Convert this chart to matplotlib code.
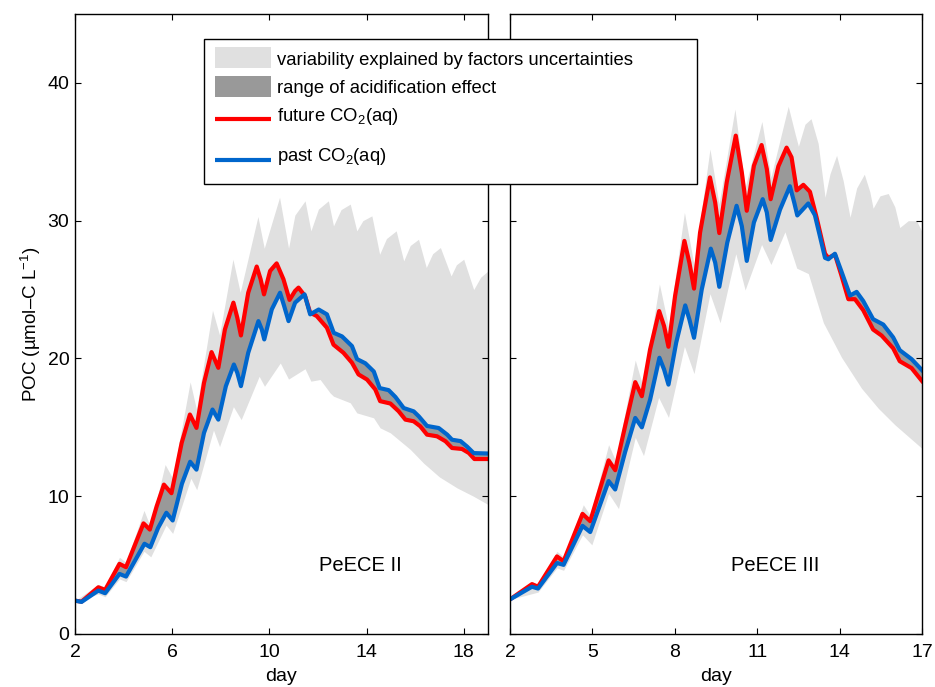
import matplotlib
matplotlib.use("Agg")
import numpy as np
import matplotlib.pyplot as plt
from matplotlib.patches import Rectangle
from matplotlib.lines import Line2D
from matplotlib.transforms import Affine2D

plt.rcParams['font.family'] = ['Liberation Sans', 'DejaVu Sans']
plt.rcParams['mathtext.fontset'] = 'custom'
plt.rcParams['mathtext.rm'] = 'Liberation Sans'
plt.rcParams['mathtext.it'] = 'Liberation Sans'

LIGHT = '#e0e0e0'
DARK = '#999999'
RED = '#ff0000'
BLUE = '#0066cc'

# ---- PeECE II ----
p2_fut_x = [2.0, 2.27, 2.96, 3.24, 3.83, 4.10, 4.82, 5.08, 5.36, 5.66, 5.97, 6.39, 6.73, 7.00,
            7.31, 7.62, 7.90, 8.17, 8.52, 8.68, 8.83, 9.13, 9.48, 9.64, 9.78, 10.03, 10.30,
            10.58, 10.83, 11.06, 11.20, 11.47, 11.68, 11.95, 12.37, 12.64, 13.05, 13.40, 13.67,
            14.02, 14.36, 14.56, 14.98, 15.32, 15.60, 15.94, 16.21, 16.49, 16.90, 17.25,
            17.52, 17.93, 18.21, 18.44, 19.0]
p2_fut_y = [2.42, 2.35, 3.39, 3.20, 5.09, 4.85, 8.03, 7.58, 9.26, 10.84, 10.22, 13.87, 15.93, 14.96,
            18.23, 20.46, 19.32, 22.10, 24.05, 22.96, 21.67, 24.77, 26.67, 25.75, 24.65, 26.35, 26.90,
            25.75, 24.25, 24.90, 25.14, 24.53, 23.32, 23.08, 22.23, 21.00, 20.41, 19.69, 18.84,
            18.47, 17.75, 16.90, 16.73, 16.17, 15.56, 15.44, 15.08, 14.47, 14.35, 13.99,
            13.50, 13.43, 13.14, 12.70, 12.70]

p2_past_x = [2.0, 2.27, 2.96, 3.24, 3.83, 4.10, 4.86, 5.10, 5.42, 5.76, 6.02, 6.40, 6.74, 7.00,
             7.31, 7.66, 7.90, 8.21, 8.54, 8.68, 8.83, 9.13, 9.55, 9.69, 9.79, 10.10, 10.44,
             10.61, 10.79, 11.06, 11.45, 11.68, 12.03, 12.37, 12.65, 12.99, 13.40, 13.61, 13.95,
             14.30, 14.54, 14.91, 15.19, 15.53, 15.94, 16.15, 16.49, 16.97, 17.32, 17.52,
             17.87, 18.14, 18.41, 19.0]
p2_past_y = [2.42, 2.33, 3.15, 2.96, 4.36, 4.17, 6.55, 6.30, 7.70, 8.80, 8.24, 10.90, 12.50, 11.93,
             14.60, 16.29, 15.56, 17.99, 19.56, 18.96, 17.99, 20.41, 22.71, 22.10, 21.38, 23.56, 24.77,
             23.80, 22.71, 24.05, 24.65, 23.20, 23.55, 23.20, 21.86, 21.60, 20.90, 19.95, 19.65,
             19.05, 17.85, 17.70, 17.20, 16.40, 16.16, 15.80, 15.10, 14.95, 14.47, 14.10,
             14.00, 13.60, 13.13, 13.10]

p2_hi_x = [2.0, 2.96, 3.24, 3.83, 4.10, 4.84, 5.10, 5.71, 6.02, 6.74, 7.00, 7.66, 7.95, 8.50,
           8.80, 9.53, 9.79, 10.42, 10.79, 11.05, 11.47, 11.71, 12.02, 12.43, 12.64, 12.95,
           13.33, 13.60, 13.85, 14.22, 14.54, 14.82, 15.22, 15.53, 15.80, 16.14, 16.46, 16.72,
           17.04, 17.48, 17.70, 18.00, 18.41, 18.70, 19.0]
p2_hi_y = [2.42, 3.60, 3.40, 5.57, 5.20, 8.97, 7.80, 12.30, 11.30, 18.30, 16.30, 23.50, 21.70, 27.20,
           24.80, 30.30, 28.00, 31.70, 28.00, 30.40, 31.44, 29.26, 30.84, 31.44, 29.62, 30.80,
           31.20, 29.26, 30.00, 30.35, 27.56, 28.70, 29.26, 27.08, 28.20, 28.65, 26.60, 27.60,
           28.05, 25.99, 26.80, 27.20, 25.00, 25.90, 26.35]

p2_lo_x = [2.0, 2.96, 3.24, 3.83, 4.10, 4.84, 5.12, 5.75, 6.02, 6.77, 7.01, 7.70, 7.95, 8.52,
           8.84, 9.58, 9.80, 10.45, 10.79, 11.47, 11.71, 12.09, 12.50, 12.64, 13.33, 13.60,
           14.29, 14.56, 14.98, 15.80, 16.35, 17.00, 17.73, 18.40, 19.0]
p2_lo_y = [2.42, 2.90, 2.70, 4.00, 3.80, 6.00, 5.60, 7.90, 7.30, 11.30, 10.47, 14.80, 13.60, 16.50,
           15.56, 18.70, 17.98, 19.67, 18.50, 19.25, 18.35, 18.47, 17.50, 17.26, 16.78, 16.05,
           15.69, 14.96, 14.60, 13.40, 12.40, 11.40, 10.60, 10.00, 9.40]

# ---- PeECE III ----
p3_fut_x = [2.0, 2.80, 3.02, 3.71, 3.95, 4.64, 4.92, 5.59, 5.83, 6.19, 6.56, 6.80, 7.10, 7.43,
            7.61, 7.77, 8.01, 8.35, 8.53, 8.70, 8.92, 9.28, 9.47, 9.62, 9.89, 10.22, 10.44,
            10.62, 10.88, 11.16, 11.35, 11.49, 11.77, 12.07, 12.25, 12.44, 12.68, 12.92, 13.16,
            13.47, 13.59, 13.83, 14.07, 14.32, 14.56, 14.86, 15.22, 15.53, 15.95, 16.19,
            16.62, 17.0]
p3_fut_y = [2.51, 3.62, 3.43, 5.63, 5.28, 8.72, 8.19, 12.60, 11.89, 15.08, 18.28, 17.26, 20.65, 23.44,
            22.35, 20.85, 24.53, 28.53, 26.96, 25.07, 29.14, 33.14, 31.32, 29.10, 32.78, 36.17, 33.50,
            30.72, 33.99, 35.49, 33.75, 31.56, 33.95, 35.30, 34.60, 32.20, 32.60, 32.10, 30.25,
            27.60, 27.30, 27.55, 26.00, 24.30, 24.30, 23.50, 22.10, 21.66, 20.74, 19.80,
            19.30, 18.36]

p3_past_x = [2.0, 2.80, 3.02, 3.71, 3.95, 4.64, 4.92, 5.59, 5.83, 6.19, 6.56, 6.80, 7.10, 7.44,
             7.61, 7.77, 8.05, 8.38, 8.53, 8.70, 8.98, 9.31, 9.47, 9.62, 9.91, 10.25, 10.44,
             10.62, 10.88, 11.20, 11.35, 11.49, 11.83, 12.19, 12.35, 12.46, 12.86, 13.10, 13.28,
             13.47, 13.59, 13.83, 14.07, 14.38, 14.62, 14.86, 15.22, 15.59, 15.95, 16.19,
             16.62, 17.0]
p3_past_y = [2.51, 3.43, 3.30, 5.15, 5.02, 7.85, 7.40, 11.10, 10.49, 13.20, 15.68, 15.00, 17.00, 20.05,
             19.20, 18.10, 21.14, 23.85, 22.84, 21.50, 25.00, 27.97, 26.96, 25.20, 28.40, 31.08, 29.60,
             27.08, 29.87, 31.56, 30.60, 28.60, 30.80, 32.50, 31.30, 30.38, 31.25, 30.40, 28.90,
             27.30, 27.20, 27.60, 26.30, 24.57, 24.83, 24.17, 22.85, 22.46, 21.53, 20.60,
             19.95, 19.15]

p3_hi_x = [2.0, 2.80, 3.02, 3.71, 3.95, 4.67, 4.92, 5.59, 5.85, 6.56, 6.84, 7.44, 7.77, 8.35,
           8.70, 9.28, 9.61, 10.19, 10.56, 11.17, 11.50, 12.13, 12.38, 12.50, 12.74, 12.96,
           13.22, 13.47, 13.65, 13.89, 14.13, 14.38, 14.62, 14.90, 15.10, 15.22, 15.47, 15.77,
           16.01, 16.19, 16.50, 16.80, 17.0]
p3_hi_y = [2.51, 3.80, 3.60, 6.00, 5.60, 9.38, 8.60, 13.74, 12.55, 19.88, 17.97, 25.40, 22.30, 30.60,
           26.80, 35.20, 31.20, 38.10, 32.40, 37.20, 33.16, 38.30, 36.30, 35.40, 37.00, 37.40,
           35.60, 31.70, 33.40, 34.74, 32.90, 30.25, 32.37, 33.37, 32.10, 30.90, 31.80, 31.97,
           31.00, 29.50, 30.00, 30.00, 29.20]

p3_lo_x = [2.0, 3.02, 3.71, 3.95, 4.64, 4.98, 5.59, 5.95, 6.56, 6.86, 7.41, 7.77, 8.35, 8.70,
           9.28, 9.65, 10.22, 10.56, 11.16, 11.50, 12.01, 12.44, 12.86, 13.41, 14.07, 14.80,
           15.41, 16.01, 17.0]
p3_lo_y = [2.51, 3.04, 4.80, 4.62, 7.20, 6.47, 10.20, 9.10, 14.27, 12.95, 17.17, 15.72, 20.87, 18.90,
           24.70, 22.59, 27.60, 24.97, 28.27, 26.82, 29.19, 26.55, 26.16, 22.59, 20.08, 17.83,
           16.38, 15.19, 13.47]

panels = [
    dict(name='PeECE II', xlim=(2, 19), xticks=[2, 6, 10, 14, 18],
         fut=(p2_fut_x, p2_fut_y), past=(p2_past_x, p2_past_y),
         hi=(p2_hi_x, p2_hi_y), lo=(p2_lo_x, p2_lo_y), label_x=13.74),
    dict(name='PeECE III', xlim=(2, 17), xticks=[2, 5, 8, 11, 14, 17],
         fut=(p3_fut_x, p3_fut_y), past=(p3_past_x, p3_past_y),
         hi=(p3_hi_x, p3_hi_y), lo=(p3_lo_x, p3_lo_y), label_x=11.65),
]

legend_labels = ['variability explained by factors uncertainties',
                 'range of acidification effect',
                 'future CO$_2$(aq)',
                 'past CO$_2$(aq)']

W, H = 935, 687
fig = plt.figure(figsize=(W / 100, H / 100), dpi=100)
ax_left = fig.add_axes([75 / W, 53 / H, 413 / W, 620 / H])
ax_right = fig.add_axes([510 / W, 53 / H, 412 / W, 620 / H])

for ax, p in zip([ax_left, ax_right], panels):
    # light band: envelope of factor uncertainties
    hx, hy = p['hi']
    lx, ly = p['lo']
    grid = np.union1d(hx, lx)
    ax.fill_between(grid, np.interp(grid, lx, ly), np.interp(grid, hx, hy),
                    color=LIGHT, lw=0)
    # dark band between the two CO2 scenarios
    fx, fy = p['fut']
    px, py = p['past']
    g2 = np.union1d(fx, px)
    ax.fill_between(g2, np.interp(g2, px, py), np.interp(g2, fx, fy),
                    color=DARK, lw=0)
    ax.plot(fx, fy, color=RED, lw=3, solid_joinstyle='round')
    ax.plot(px, py, color=BLUE, lw=3, solid_joinstyle='round')

    ax.set_xlim(*p['xlim'])
    ax.set_ylim(0, 45)
    ax.set_xticks(p['xticks'])
    ax.set_yticks([0, 10, 20, 30, 40])
    ax.tick_params(direction='in', length=4, width=0.8, top=True, right=True,
                   labelsize=14)
    ax.tick_params(axis='x', pad=7)
    ax.tick_params(axis='y', pad=4)
    for s in ax.spines.values():
        s.set_linewidth(1.0)
    ax.set_xlabel('day', fontsize=14, labelpad=5)
    ax.text(p['label_x'], 4.95, p['name'], fontsize=14.5, ha='center', va='center')

ax_right.tick_params(labelleft=False)
ax_left.set_ylabel('POC (µmol–C L$^{-1}$)', fontsize=13.5, labelpad=3)

# legend box drawn in pixel units measured from the top-left corner
px_tr = Affine2D().scale(1 / W, -1 / H).translate(0, 1) + fig.transFigure
fig.add_artist(Rectangle((204, 39), 493, 145, transform=px_tr, facecolor='white',
                         edgecolor='black', lw=1.0, zorder=10))
fig.add_artist(Rectangle((215, 47), 56, 21, transform=px_tr, facecolor=LIGHT,
                         edgecolor='none', zorder=11))
fig.add_artist(Rectangle((215, 76), 56, 21, transform=px_tr, facecolor=DARK,
                         edgecolor='none', zorder=11))
fig.add_artist(Line2D([215, 271], [119, 119], transform=px_tr, color=RED, lw=3,
                      solid_capstyle='butt', zorder=11))
fig.add_artist(Line2D([215, 271], [160, 160], transform=px_tr, color=BLUE, lw=3,
                      solid_capstyle='butt', zorder=11))
for lab, yb in zip(legend_labels, [65, 93, 121, 161]):
    fig.text(277, yb, lab, transform=px_tr, fontsize=13.3, va='baseline', ha='left',
             zorder=12)

fig.savefig('out.png', dpi=100)
